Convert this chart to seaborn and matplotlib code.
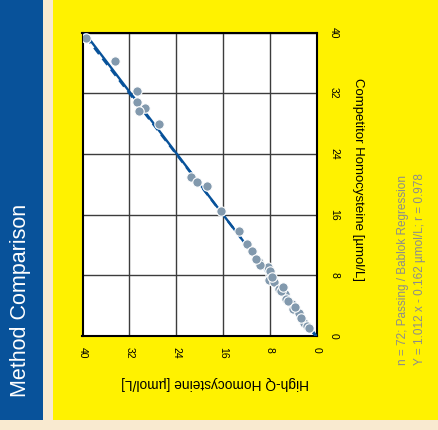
import matplotlib
matplotlib.use("Agg")
import matplotlib.pyplot as plt
from matplotlib.patches import Rectangle
import numpy as np
import pandas as pd
import seaborn as sns

# Paired results (µmol/L): High-Q assay vs. competitor assay
high_q = [39.4, 34.4, 30.6, 30.6, 29.3, 30.3, 26.9, 21.4, 20.4, 18.7,
          16.4, 13.2, 11.8, 11.1, 9.9, 8.3, 7.9, 8.2, 7.3, 6.4,
          5.4, 5.2, 4.2, 4.0, 3.0, 2.1, 1.6, 8.0, 7.6, 6.0,
          4.8, 3.6, 2.6, 9.6, 10.4, 5.8, 1.2]
competitor = [39.3, 36.2, 32.3, 30.8, 30.0, 29.7, 27.9, 20.9, 20.3, 19.8,
              16.5, 13.9, 12.1, 11.2, 9.7, 9.05, 8.2, 7.4, 7.1, 6.2,
              5.6, 4.9, 4.2, 3.5, 3.0, 1.75, 1.3, 8.6, 7.8, 5.9,
              4.6, 3.8, 2.4, 9.4, 10.2, 6.4, 1.0]

# Passing / Bablok fit
slope = 1.012
intercept = -0.162
n_pairs = 72
r_value = 0.978

ticks = [0, 8, 16, 24, 32, 40]

BLUE = "#08529a"
YELLOW = "#fff200"
CREAM = "#f9ead0"
DOT = "#8299ad"
GREY_TXT = "#8c8c8c"

W, H = 438, 430
fig = plt.figure(figsize=(W / 100, H / 100), dpi=100)
fig.patch.set_facecolor(CREAM)

def px_rect(x0, y0, x1, y1, color):
    fig.add_artist(Rectangle((x0 / W, 1 - y1 / H), (x1 - x0) / W, (y1 - y0) / H,
                             transform=fig.transFigure, facecolor=color,
                             edgecolor="none", zorder=0))

px_rect(0, 0, 43, 420, BLUE)
px_rect(53, 0, W, 420, YELLOW)

ax_l, ax_r, ax_t, ax_b = 82.5, 316.5, 32.5, 336
ax = fig.add_axes([ax_l / W, 1 - ax_b / H, (ax_r - ax_l) / W, (ax_b - ax_t) / H])
ax.set_facecolor("white")

df = pd.DataFrame({"high_q": high_q, "competitor": competitor})

# Identity line (dashed) and regression line (solid)
line_x = np.array([0.0, 40.0])
ax.plot(line_x, line_x, color=BLUE, lw=1.7, ls=(0, (3.4, 2.4)), zorder=3)
ax.plot(line_x, slope * line_x + intercept, color=BLUE, lw=1.7, zorder=3)

sns.scatterplot(data=df, x="high_q", y="competitor", ax=ax, s=46, color=DOT,
                edgecolor="white", linewidth=0.8, zorder=4, legend=False)

ax.set_xlim(40, 0)
ax.set_ylim(0, 40)
ax.set_xticks(ticks)
ax.set_yticks(ticks)
ax.set_xticklabels([str(t) for t in ticks], rotation=-90, fontsize=7.5,
                   family="Liberation Sans", va="top", ha="center")
ax.set_yticklabels([str(t) for t in ticks], rotation=-90, fontsize=7.5,
                   family="Liberation Sans", va="center", ha="left")
ax.yaxis.tick_right()
ax.tick_params(axis="both", length=0)
ax.tick_params(axis="x", pad=8)
ax.tick_params(axis="y", pad=9)
ax.set_xlabel("")
ax.set_ylabel("")
ax.grid(True, color="#3c3c3c", lw=1.0)
ax.set_axisbelow(True)
for sp in ax.spines.values():
    sp.set_color("black")
    sp.set_linewidth(1.5)

# Axis titles
fig.text(358 / W, 1 - 180 / H, "Competitor Homocysteine [µmol/L]", rotation=-90,
         ha="center", va="center", fontsize=9.5, family="Liberation Sans")
fig.text(215 / W, 1 - 383 / H, "High-Q Homocysteine [µmol/L]", rotation=180,
         ha="center", va="center", fontsize=9.9, family="Liberation Sans")

# Side banner
fig.text(21 / W, 1 - 397 / H, "Method Comparison", rotation=90, color="white",
         ha="center", va="bottom", fontsize=15.5, family="Liberation Sans")

# Regression summary
fig.text(403 / W, 1 - 365 / H, f"n = {n_pairs}; Passing / Bablok Regression",
         rotation=90, color=GREY_TXT, ha="center", va="bottom", fontsize=8.5,
         family="Liberation Sans")
fig.text(420 / W, 1 - 365 / H,
         f"Y = {slope:.3f} x - {abs(intercept):.3f} µmol/L; r = {r_value:.3f}",
         rotation=90, color=GREY_TXT, ha="center", va="bottom", fontsize=8.5,
         family="Liberation Sans")

fig.savefig("out.png", dpi=100, facecolor=fig.get_facecolor())
